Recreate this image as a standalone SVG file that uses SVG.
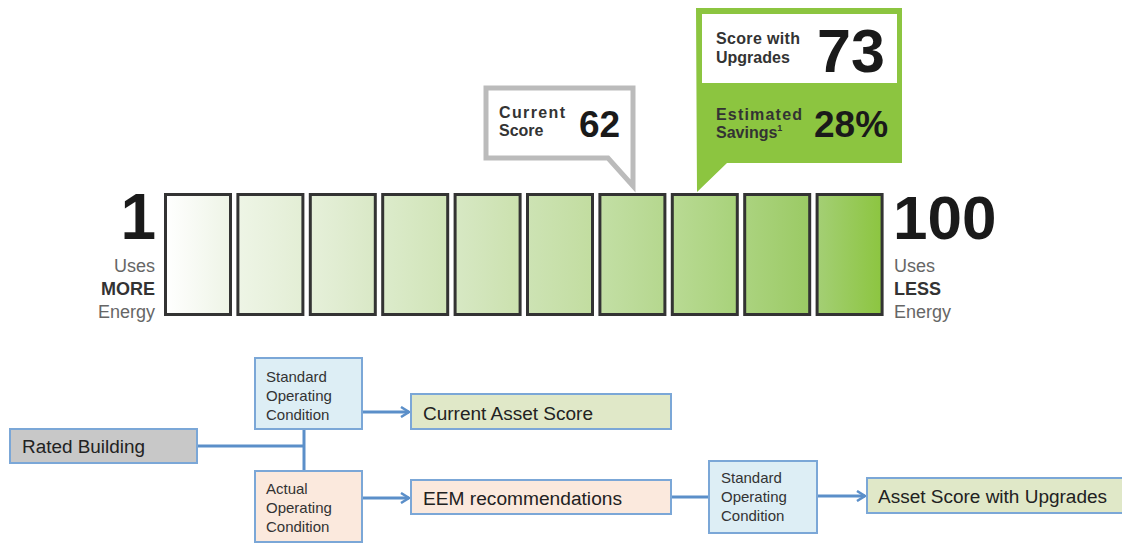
<svg xmlns="http://www.w3.org/2000/svg" width="1122" height="543" viewBox="0 0 1122 543">
<style>
.sans{font-family:"Liberation Sans",Arial,sans-serif}
.b{font-weight:bold}
.bar{stroke:#333;stroke-width:3}
.big{font-family:"Liberation Sans",Arial,sans-serif;font-weight:bold;fill:#1a1a1a}
.side{font-family:"Liberation Sans",Arial,sans-serif;font-size:18px;fill:#666}
.sideb{font-family:"Liberation Sans",Arial,sans-serif;font-size:18px;fill:#333;font-weight:bold}
.lab{font-family:"Liberation Sans",Arial,sans-serif;font-size:16px;font-weight:bold;fill:#333}
.box{stroke:#7ba7d7;stroke-width:2}
.ft{font-family:"Liberation Sans",Arial,sans-serif;font-size:18px;fill:#222}
.fs{font-family:"Liberation Sans",Arial,sans-serif;font-size:15px;fill:#333}
.con{stroke:#5b8fc9;stroke-width:3;fill:none}
</style>
<defs>
<linearGradient id="g1"><stop offset="0" stop-color="#ffffff"/><stop offset="1" stop-color="#eef4e6"/></linearGradient>
<linearGradient id="g2"><stop offset="0" stop-color="#eef5e6"/><stop offset="1" stop-color="#e3eed5"/></linearGradient>
<linearGradient id="g3"><stop offset="0" stop-color="#e6f0da"/><stop offset="1" stop-color="#d9e8c6"/></linearGradient>
<linearGradient id="g4"><stop offset="0" stop-color="#dcebcb"/><stop offset="1" stop-color="#d0e4b7"/></linearGradient>
<linearGradient id="g5"><stop offset="0" stop-color="#d7e8c4"/><stop offset="1" stop-color="#cbe1ae"/></linearGradient>
<linearGradient id="g6"><stop offset="0" stop-color="#cde3b4"/><stop offset="1" stop-color="#c2dda0"/></linearGradient>
<linearGradient id="g7"><stop offset="0" stop-color="#c3dfa5"/><stop offset="1" stop-color="#b5d78e"/></linearGradient>
<linearGradient id="g8"><stop offset="0" stop-color="#b9da94"/><stop offset="1" stop-color="#a8d27a"/></linearGradient>
<linearGradient id="g9"><stop offset="0" stop-color="#abd37f"/><stop offset="1" stop-color="#9bca64"/></linearGradient>
<linearGradient id="g10"><stop offset="0" stop-color="#a4cf75"/><stop offset="1" stop-color="#8cc540"/></linearGradient>
<marker id="arr" viewBox="0 0 12 12" refX="10" refY="6" markerWidth="12" markerHeight="12" markerUnits="userSpaceOnUse" orient="auto">
<path d="M2,1 L10,6 L2,11" fill="none" stroke="#5b8fc9" stroke-width="2.5"/>
</marker>
</defs>
<rect width="1122" height="543" fill="#ffffff"/>

<g id="scale">
<rect class="bar" x="165.5" y="194.5" width="65" height="120" fill="url(#g1)"/>
<rect class="bar" x="237.9" y="194.5" width="65" height="120" fill="url(#g2)"/>
<rect class="bar" x="310.3" y="194.5" width="65" height="120" fill="url(#g3)"/>
<rect class="bar" x="382.7" y="194.5" width="65" height="120" fill="url(#g4)"/>
<rect class="bar" x="455.1" y="194.5" width="65" height="120" fill="url(#g5)"/>
<rect class="bar" x="527.5" y="194.5" width="65" height="120" fill="url(#g6)"/>
<rect class="bar" x="599.9" y="194.5" width="65" height="120" fill="url(#g7)"/>
<rect class="bar" x="672.3" y="194.5" width="65" height="120" fill="url(#g8)"/>
<rect class="bar" x="744.7" y="194.5" width="65" height="120" fill="url(#g9)"/>
<rect class="bar" x="817.1" y="194.5" width="65" height="120" fill="url(#g10)"/>
<text class="big" x="156" y="239" font-size="64" text-anchor="end">1</text>
<text class="side" x="155" y="272" text-anchor="end">Uses</text>
<text class="sideb" x="155" y="295" text-anchor="end">MORE</text>
<text class="side" x="155" y="318" text-anchor="end">Energy</text>
<text class="big" x="893" y="239" font-size="62">100</text>
<text class="side" x="894" y="272">Uses</text>
<text class="sideb" x="894" y="295">LESS</text>
<text class="side" x="894" y="318">Energy</text>
</g>

<g id="current-score">
<polygon points="486,88 633,88 633,186 608,158 486,158" fill="#ffffff" stroke="#bbbbbb" stroke-width="5" stroke-linejoin="miter"/>
<text class="lab" x="499" y="118" textLength="66">Current</text>
<text class="lab" x="499" y="136">Score</text>
<text class="big" x="579" y="137" font-size="37">62</text>
</g>

<g id="upgrade-score">
<polygon points="696,8 902,8 902,163 727,163 697,192" fill="#8cc540"/>
<rect x="702" y="14" width="195" height="69" fill="#ffffff"/>
<text class="lab" x="716" y="44" textLength="84">Score with</text>
<text class="lab" x="716" y="63">Upgrades</text>
<text class="big" x="817" y="72" font-size="61">73</text>
<text class="lab" x="716" y="120" textLength="86">Estimated</text>
<text class="lab" x="716" y="138">Savings<tspan font-size="9" dy="-7">1</tspan></text>
<text class="big" x="814" y="137" font-size="37">28%</text>
</g>

<g id="connectors">
<path class="con" d="M197,446 H304"/>
<path class="con" d="M304,429 V471"/>
<path class="con" d="M362,412 H409" marker-end="url(#arr)"/>
<path class="con" d="M362,498 H409" marker-end="url(#arr)"/>
<path class="con" d="M671,497 H709"/>
<path class="con" d="M817,496 H865" marker-end="url(#arr)"/>
</g>

<g id="rated-building">
<rect class="box" x="10" y="429" width="187" height="34" fill="#c8c8c8"/>
<text class="ft" x="22" y="453" textLength="123" lengthAdjust="spacingAndGlyphs">Rated Building</text>
</g>
<g id="standard-1">
<rect class="box" x="255" y="358" width="107" height="71" fill="#ddeef5"/>
<text class="fs" x="266" y="382">Standard</text>
<text class="fs" x="266" y="401">Operating</text>
<text class="fs" x="266" y="420">Condition</text>
</g>
<g id="actual">
<rect class="box" x="255" y="471" width="107" height="71" fill="#fbe9dd"/>
<text class="fs" x="266" y="494">Actual</text>
<text class="fs" x="266" y="513">Operating</text>
<text class="fs" x="266" y="532">Condition</text>
</g>
<g id="current-asset-score">
<rect class="box" x="411" y="394" width="260" height="35" fill="#e0e8c8"/>
<text class="ft" x="423" y="420" textLength="170" lengthAdjust="spacingAndGlyphs">Current Asset Score</text>
</g>
<g id="eem">
<rect class="box" x="411" y="480" width="260" height="34" fill="#fbe9dd"/>
<text class="ft" x="423" y="505" textLength="199" lengthAdjust="spacingAndGlyphs">EEM recommendations</text>
</g>
<g id="standard-2">
<rect class="box" x="709" y="461" width="108" height="72" fill="#ddeef5"/>
<text class="fs" x="721" y="483">Standard</text>
<text class="fs" x="721" y="502">Operating</text>
<text class="fs" x="721" y="521">Condition</text>
</g>
<g id="asset-score-upgrades">
<rect class="box" x="867" y="478" width="262" height="35" fill="#e0e8c8"/>
<text class="ft" x="878" y="503" textLength="229" lengthAdjust="spacingAndGlyphs">Asset Score with Upgrades</text>
</g>
</svg>
